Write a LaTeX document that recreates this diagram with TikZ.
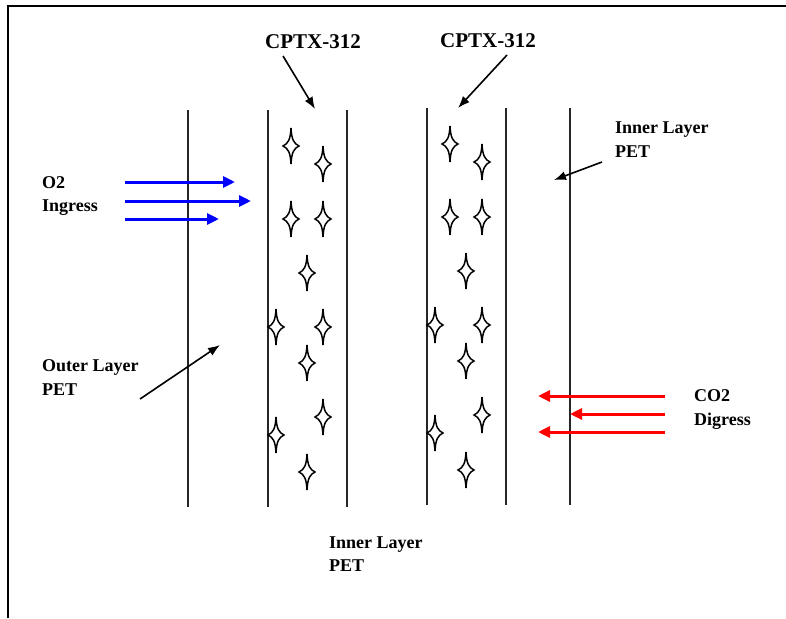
\documentclass[tikz,border=0pt]{standalone}
\usepackage{fontspec}
\setmainfont{Liberation Serif}
\usetikzlibrary{calc,arrows.meta}

\tikzset{
  layer/.style={line width=1.2pt,black!85},
  lbl/.style={font=\bfseries\fontsize{18}{23.5}\selectfont,align=left,inner sep=0pt,anchor=west},
  ptr/.style={-{Latex[length=12pt,width=9pt]},line width=1.6pt},
  gasin/.style={-{Triangle[length=12pt,width=11pt]},line width=3pt,blue},
  gasout/.style={-{Triangle[length=12pt,width=11pt]},line width=3pt,red},
  spark/.pic={\draw[line width=1.5pt] (0,-18) .. controls (0.6,-6) and (3,-2.5) .. (8,0)
     .. controls (3,2.5) and (0.6,6) .. (0,18) .. controls (-0.6,6) and (-3,2.5) .. (-8,0)
     .. controls (-3,-2.5) and (-0.6,-6) .. cycle;}
}

\begin{document}
\begin{tikzpicture}[x=1pt,y=-1pt,>=Latex]
 \useasboundingbox (0,0) rectangle (786,618);
 % frame
 \draw[line width=2pt] (8,618) -- (8,6) -- (786,6);
 % layers
 \foreach \lx in {188,268,347} \draw[layer] (\lx,110) -- (\lx,507);
 \foreach \lx in {427,506,570} \draw[layer] (\lx,108) -- (\lx,505);
 % CPTX-312 particles
 \foreach \sx/\sy in {291/146,323/164,291/219,323/219,307/273,276/327,
                      323/327,307/363,323/417,276/435,307/472}
   \pic at (\sx,\sy) {spark};
 \begin{scope}[shift={(159,-2)}]
  \foreach \sx/\sy in {291/146,323/164,291/219,323/219,307/273,276/327,
                       323/327,307/363,323/417,276/435,307/472}
    \pic at (\sx,\sy) {spark};
 \end{scope}
 % labels
 \node[lbl,font=\bfseries\fontsize{21}{24}\selectfont] (cptxL) at (265,42) {CPTX-312};
 \node[lbl,font=\bfseries\fontsize{21}{24}\selectfont] (cptxR) at (440,41) {CPTX-312};
 \node[lbl] (innerTop) at (615,139.5) {Inner Layer\\PET};
 \node[lbl] (otwo) at (42,196) {O2\\Ingress};
 \node[lbl] (outer) at (42,377.5) {Outer Layer\\PET};
 \node[lbl] (cotwo) at (694,409.5) {CO2\\Digress};
 \node[lbl] (innerBot) at (329,554) {Inner Layer\\PET};
 % pointers
 \coordinate (cptxLtail) at (283,56);  \coordinate (cptxLhead) at (315,109);
 \coordinate (cptxRtail) at (507,55);  \coordinate (cptxRhead) at (458,108);
 \coordinate (innerTail) at (602,162); \coordinate (innerHead) at (554,180);
 \coordinate (outerTail) at (140,399); \coordinate (outerHead) at (220,345);
 \draw[ptr] (cptxLtail) -- (cptxLhead);
 \draw[ptr] (cptxRtail) -- (cptxRhead);
 \draw[ptr] (innerTail) -- (innerHead);
 \draw[ptr] (outerTail) -- (outerHead);
 % gas flow
 \foreach \gy/\gx in {182/235,201/251,219/219}
   \draw[gasin] (125,\gy) coordinate (in\gy) -- (\gx,\gy) coordinate (inend\gy);
 \foreach \gy/\gx in {396/538,414/570,432/538}
   \draw[gasout] (665,\gy) coordinate (out\gy) -- (\gx,\gy) coordinate (outend\gy);
\end{tikzpicture}
\end{document}
